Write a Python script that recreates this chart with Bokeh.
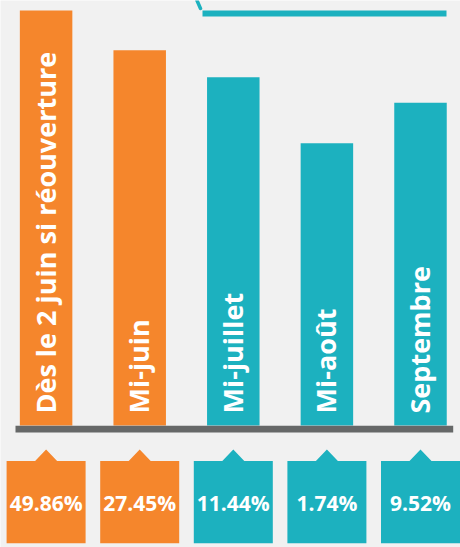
import math
from bokeh.plotting import figure
from bokeh.models import Range1d, ColumnDataSource
from bokeh.core.properties import value
from bokeh.embed import file_html
from bokeh.resources import INLINE

# ---- data ----
categories = ["Dès le 2 juin si réouverture", "Mi-juin", "Mi-juillet", "Mi-août", "Septembre"]
percentages = [49.86, 27.45, 11.44, 1.74, 9.52]
bar_heights = [100.0, 90.4, 83.9, 68.0, 77.8]   # decorative bar heights (relative units)
groups = ["early", "early", "late", "late", "late"]

# ---- styles ----
BG = "#F1F1F1"
COLORS = {"early": "#F5862C", "late": "#1CB1BF"}
AXIS_COLOR = "#666868"
FONT = value("Open Sans")

W, H = 460, 547
X0, DX = 45.6, 93.6          # pixel of first category centre, spacing
BASE_PX = 425.0              # baseline pixel
PX = 4.15                    # pixels per height unit


def ypx(py):
    return (BASE_PX - py) / PX


def xpx(px):
    return (px - X0) / DX


p = figure(width=W, height=H, output_backend="svg", toolbar_location=None,
           x_range=Range1d(xpx(0), xpx(W)), y_range=Range1d(ypx(H), ypx(0)),
           x_axis_location=None, y_axis_location=None, min_border=0)
p.background_fill_color = BG
p.border_fill_color = BG
p.outline_line_color = None
p.grid.visible = False

idx = list(range(len(categories)))
colors = [COLORS[g] for g in groups]

# bars
src = ColumnDataSource(dict(x=idx, top=bar_heights, color=colors, cat=categories,
                            pct=[f"{v:.2f}%" for v in percentages]))
p.vbar(x="x", top="top", bottom=0, width=52.5 / DX, fill_color="color",
       line_color=None, source=src)

# baseline
p.quad(left=xpx(15), right=xpx(452.7), top=ypx(425.3), bottom=ypx(432),
       fill_color=AXIS_COLOR, line_color=None)

# category labels (vertical)
p.text(x="x", y=ypx(413), text="cat", source=src, angle=math.pi / 2,
       text_align="left", text_baseline="middle", text_font=FONT,
       text_font_style="bold", text_font_size="27px", text_color="white",
       x_offset=-1)

# value boxes with notch
bw = 79 / DX / 2
nw = 11 / DX
top_y, bot_y, peak_y = ypx(460.5), ypx(542.7), ypx(449)
xs, ys = [], []
for i in idx:
    xs.append([i - bw, i - bw, i - nw, i, i + nw, i + bw, i + bw])
    ys.append([bot_y, top_y, top_y, peak_y, top_y, top_y, bot_y])
p.patches(xs=xs, ys=ys, fill_color=colors, line_color=None)

p.text(x="x", y=ypx(502), text="pct", source=src, text_align="center",
       text_baseline="middle", text_font=FONT, text_font_style="bold",
       text_font_size="21px", text_color="white")

# top bracket fragment over the later group
p.line(x=[xpx(202), xpx(446)], y=[ypx(13), ypx(13)], line_color=COLORS["late"],
       line_width=6)
p.line(x=[xpx(196.5), xpx(200)], y=[ypx(0), ypx(8)], line_color=COLORS["late"],
       line_width=3.5, line_cap="round")

open("out.html", "w").write(file_html(p, INLINE))
